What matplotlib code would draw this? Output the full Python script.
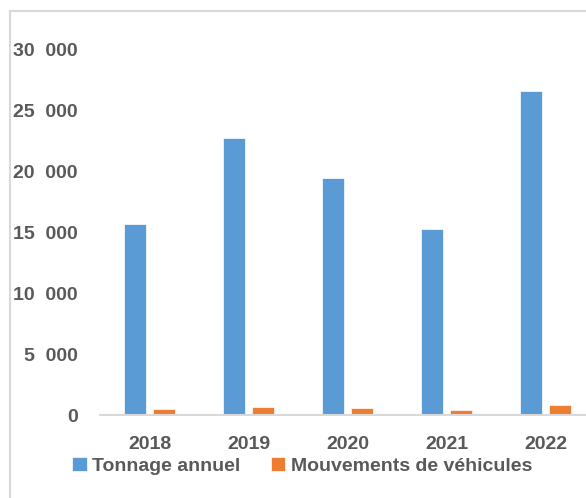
import numpy as np
import matplotlib.pyplot as plt
from matplotlib.patches import Rectangle

# data
years = ['2018', '2019', '2020', '2021', '2022']
tonnage = [15700, 22800, 19500, 15300, 26600]
mouvements = [480, 650, 580, 420, 800]
yticks = [0, 5000, 10000, 15000, 20000, 25000, 30000]
ytick_labels = ['0', '5  000', '10  000', '15  000', '20  000', '25  000', '30  000']

blue = '#5B9BD5'
orange = '#ED7D31'
txt = '#595959'

plt.rcParams['font.family'] = ['Liberation Sans', 'DejaVu Sans']
plt.rcParams['font.weight'] = 'bold'

fig = plt.figure(figsize=(5.86, 4.98), dpi=100)
W, H = 586, 498

# outer chart frame (partly cut off by the image edge)
fig.patches.append(Rectangle((10 / W, -0.05), 1.0, 1 - 11 / H + 0.05,
                             transform=fig.transFigure, fill=False,
                             edgecolor='#d9d9d9', linewidth=1.5))

ax = fig.add_axes([100 / W, (H - 415) / H, 495 / W, 365 / H])
x = np.arange(len(years))
w = 0.22
ax.bar(x - 0.145, tonnage, w, color=blue, edgecolor='white', linewidth=0.5, label='Tonnage annuel')
ax.bar(x + 0.145, mouvements, w, color=orange, edgecolor='white', linewidth=0.5, label='Mouvements de véhicules')

ax.set_xlim(-0.5, len(years) - 0.5)
ax.set_ylim(0, 30000)
ax.set_yticks(yticks)
ax.set_yticklabels(ytick_labels)
ax.set_xticks(x)
ax.set_xticklabels(years)
ax.tick_params(axis='both', length=0, labelsize=14, labelcolor=txt)
ax.tick_params(axis='y', pad=16)
ax.tick_params(axis='x', pad=15)
for s in ['top', 'right', 'left']:
    ax.spines[s].set_visible(False)
ax.spines['bottom'].set_color('#d9d9d9')
ax.spines['bottom'].set_linewidth(1.5)

fig.legend(loc='center left', bbox_to_anchor=(72 / W, (H - 466) / H), ncol=2,
           frameon=False, fontsize=14, labelcolor=txt, handlelength=0.75,
           handleheight=0.75, handletextpad=0.3, columnspacing=1.55,
           borderaxespad=0, borderpad=0)

fig.savefig('out.png', dpi=100)
